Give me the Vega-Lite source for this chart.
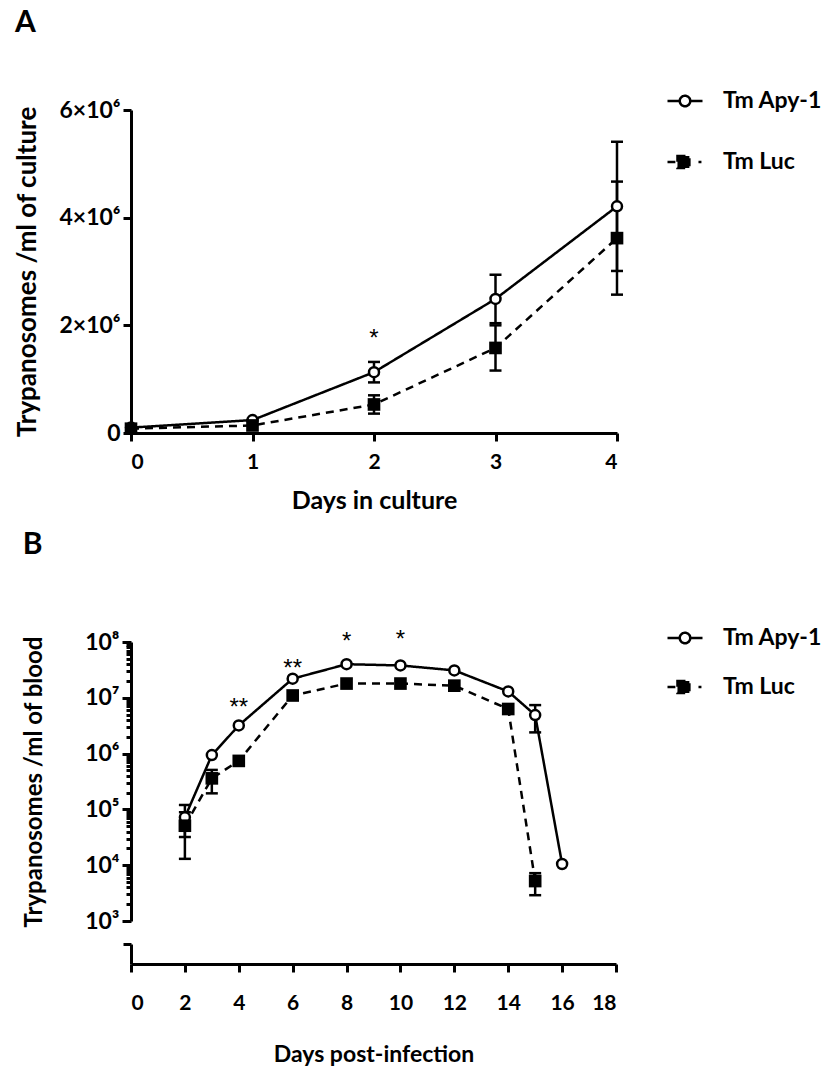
{
  "$schema": "https://vega.github.io/schema/vega-lite/v6.json",
  "padding": {"left": 14, "top": 8, "right": 5, "bottom": 5},
  "spacing": 17,
  "config": {
    "font": "Lato",
    "view": {"stroke": null},
    "axis": {"domainColor": "black", "domainWidth": 3, "tickColor": "black", "tickWidth": 3, "tickSize": 8,
      "labelFont": "Lato", "labelFontWeight": "bold", "labelFontSize": 21, "labelColor": "black",
      "titleFont": "Lato", "titleFontWeight": "bold", "titleFontSize": 24, "titleColor": "black", "grid": false},
    "legend": {"labelFont": "Lato", "labelFontWeight": "bold", "labelFontSize": 23, "labelColor": "black",
      "symbolSize": 1225, "symbolStrokeWidth": 2.5, "symbolStrokeColor": "black", "title": null},
    "title": {"font": "Lato", "fontWeight": "bold", "fontSize": 30, "color": "black", "anchor": "start", "frame": "bounds"}
  },
  "datasets": {
    "a": [
      {"day": 0, "series": "Tm Apy-1", "mean": 100000, "lo": null, "hi": null},
      {"day": 1, "series": "Tm Apy-1", "mean": 240000, "lo": null, "hi": null},
      {"day": 2, "series": "Tm Apy-1", "mean": 1130000, "lo": 940000, "hi": 1320000},
      {"day": 3, "series": "Tm Apy-1", "mean": 2490000, "lo": 2040000, "hi": 2940000},
      {"day": 4, "series": "Tm Apy-1", "mean": 4210000, "lo": 3010000, "hi": 5410000},
      {"day": 0, "series": "Tm Luc", "mean": 80000, "lo": null, "hi": null},
      {"day": 1, "series": "Tm Luc", "mean": 140000, "lo": null, "hi": null},
      {"day": 2, "series": "Tm Luc", "mean": 530000, "lo": 360000, "hi": 700000},
      {"day": 3, "series": "Tm Luc", "mean": 1580000, "lo": 1160000, "hi": 2000000},
      {"day": 4, "series": "Tm Luc", "mean": 3620000, "lo": 2570000, "hi": 4670000}
    ],
    "b": [
      {"day": 2, "series": "Tm Apy-1", "mean": 72000, "lo": 32000, "hi": 120000},
      {"day": 3, "series": "Tm Apy-1", "mean": 940000, "lo": null, "hi": null},
      {"day": 4, "series": "Tm Apy-1", "mean": 3200000, "lo": null, "hi": null},
      {"day": 6, "series": "Tm Apy-1", "mean": 22000000, "lo": null, "hi": null},
      {"day": 8, "series": "Tm Apy-1", "mean": 40000000, "lo": null, "hi": null},
      {"day": 10, "series": "Tm Apy-1", "mean": 38000000, "lo": null, "hi": null},
      {"day": 12, "series": "Tm Apy-1", "mean": 31000000, "lo": null, "hi": null},
      {"day": 14, "series": "Tm Apy-1", "mean": 13000000, "lo": null, "hi": null},
      {"day": 15, "series": "Tm Apy-1", "mean": 4900000, "lo": 2400000, "hi": 7400000},
      {"day": 16, "series": "Tm Apy-1", "mean": 10500, "lo": null, "hi": null},
      {"day": 2, "series": "Tm Luc", "mean": 51000, "lo": 13000, "hi": 89000},
      {"day": 3, "series": "Tm Luc", "mean": 360000, "lo": 194000, "hi": 510000},
      {"day": 4, "series": "Tm Luc", "mean": 740000, "lo": null, "hi": null},
      {"day": 6, "series": "Tm Luc", "mean": 11000000, "lo": null, "hi": null},
      {"day": 8, "series": "Tm Luc", "mean": 18000000, "lo": null, "hi": null},
      {"day": 10, "series": "Tm Luc", "mean": 18000000, "lo": null, "hi": null},
      {"day": 12, "series": "Tm Luc", "mean": 16500000, "lo": null, "hi": null},
      {"day": 14, "series": "Tm Luc", "mean": 6300000, "lo": null, "hi": null},
      {"day": 15, "series": "Tm Luc", "mean": 5200, "lo": 2900, "hi": 7200}
    ],
    "astA": [{"day": 2, "value": 1750000, "label": "*"}],
    "astB": [
      {"day": 4, "value": 6500000, "label": "**"},
      {"day": 6, "value": 33000000, "label": "**"},
      {"day": 8, "value": 100000000, "label": "*"},
      {"day": 10, "value": 108000000, "label": "*"}
    ]
  },
  "vconcat": [
    {
      "title": {"text": "A", "offset": 44},
      "width": 486,
      "height": 323,
      "encoding": {
        "x": {"field": "day", "type": "quantitative", "scale": {"domain": [0, 4]},
          "axis": {"values": [0, 1, 2, 3, 4], "title": "Days in culture", "labelPadding": 10, "titlePadding": 16, "titleFontSize": 25}}
      },
      "layer": [
        {
          "data": {"name": "a"},
          "transform": [{"filter": "datum.lo != null"}],
          "mark": {"type": "rule", "strokeWidth": 2.5, "color": "black"},
          "encoding": {
            "y": {"field": "lo", "type": "quantitative", "scale": {"domain": [0, 6000000]},
              "axis": {"values": [0, 2000000, 4000000, 6000000], "labelExpr": "datum.value == 0 ? '0' : (datum.value / 1000000) + '×10⁶'", "labelFontSize": 23, "title": "Trypanosomes /ml of culture", "titleFontSize": 26, "labelPadding": 3, "titlePadding": 18}},
            "y2": {"field": "hi"}
          }
        },
        {
          "data": {"name": "a"},
          "transform": [{"filter": "datum.lo != null"}],
          "mark": {"type": "tick", "orient": "horizontal", "size": 12, "thickness": 2.5, "color": "black", "opacity": 1},
          "encoding": {"y": {"field": "lo", "type": "quantitative"}}
        },
        {
          "data": {"name": "a"},
          "transform": [{"filter": "datum.lo != null"}],
          "mark": {"type": "tick", "orient": "horizontal", "size": 12, "thickness": 2.5, "color": "black", "opacity": 1},
          "encoding": {"y": {"field": "hi", "type": "quantitative"}}
        },
        {
          "data": {"name": "a"},
          "mark": {"type": "line", "strokeWidth": 2.5, "color": "black"},
          "encoding": {
            "y": {"field": "mean", "type": "quantitative"},
            "strokeDash": {"field": "series", "type": "nominal",
              "scale": {"domain": ["Tm Apy-1", "Tm Luc"], "range": [[1, 0], [8, 6]]},
              "legend": {"orient": "none", "legendX": 535, "legendY": -28, "rowPadding": 30, "labelOffset": 19, "symbolType": "circle",
                "encode": {"symbols": {"update": {
                  "shape": {"signal": "datum.value == 'Tm Apy-1' ? 'M-1,0H-0.3M0.3,0H1M-0.3,0A0.3,0.3,0,1,1,0.3,0A0.3,0.3,0,1,1,-0.3,0Z' : 'M-1,0H-0.55M-0.43,-0.34H0.25V0.34H-0.43ZM0.77,0H0.94'"},
                  "fill": {"signal": "datum.value == 'Tm Apy-1' ? 'white' : 'black'"},
                  "strokeDash": {"value": [1, 0]},
                  "stroke": {"value": "black"},
                  "strokeWidth": {"value": 2.5},
                  "size": {"value": 1225}
                }}}}
            }
          }
        },
        {
          "data": {"name": "a"},
          "transform": [{"filter": "datum.series == 'Tm Apy-1'"}],
          "mark": {"type": "point", "shape": "circle", "size": 100, "strokeWidth": 2.5, "stroke": "black", "fill": "white", "opacity": 1},
          "encoding": {"y": {"field": "mean", "type": "quantitative"}}
        },
        {
          "data": {"name": "a"},
          "transform": [{"filter": "datum.series == 'Tm Luc'"}],
          "mark": {"type": "point", "shape": "square", "size": 160, "strokeWidth": 0, "fill": "black", "filled": true, "opacity": 1},
          "encoding": {"y": {"field": "mean", "type": "quantitative"}}
        },
        {
          "data": {"name": "astA"},
          "mark": {"type": "text", "font": "Liberation Sans", "fontSize": 24, "color": "black", "baseline": "middle"},
          "encoding": {
            "y": {"field": "value", "type": "quantitative"},
            "text": {"field": "label"}
          }
        }
      ]
    },
    {
      "title": {"text": "B", "offset": 59},
      "width": 485,
      "height": 279,
      "encoding": {
        "x": {"field": "day", "type": "quantitative", "scale": {"domain": [0, 18]},
          "axis": {"values": [0, 2, 4, 6, 8, 10, 12, 14, 16, 18], "title": "Days post-infection", "offset": 43, "labelPadding": 20, "titlePadding": 30, "titleFontSize": 23}}
      },
      "layer": [
        {
          "layer": [
            {
              "data": {"name": "b"},
              "transform": [{"filter": "datum.lo != null"}],
              "mark": {"type": "rule", "strokeWidth": 2.5, "color": "black"},
              "encoding": {
                "y": {"field": "lo", "type": "quantitative", "scale": {"type": "log", "domain": [1000, 100000000]},
                  "axis": {"values": [1000,2000,3000,4000,5000,6000,7000,8000,9000,10000,20000,30000,40000,50000,60000,70000,80000,90000,100000,200000,300000,400000,500000,600000,700000,800000,900000,1000000,2000000,3000000,4000000,5000000,6000000,7000000,8000000,9000000,10000000,20000000,30000000,40000000,50000000,60000000,70000000,80000000,90000000,100000000],
                    "labelExpr": "abs(log(datum.value)/LN10 - round(log(datum.value)/LN10)) < 0.001 ? '10' + ['⁰','¹','²','³','⁴','⁵','⁶','⁷','⁸'][round(log(datum.value)/LN10)] : ''",
                    "tickSize": {"condition": {"test": "abs(log(datum.value)/LN10 - round(log(datum.value)/LN10)) < 0.001", "value": 9}, "value": 5},
                    "labelPadding": 3, "labelBound": false, "labelOverlap": false, "labelFontSize": 23,
                    "title": "Trypanosomes /ml of blood", "titleFontSize": 24, "titlePadding": 38}},
                "y2": {"field": "hi"}
              }
            },
            {
              "data": {"name": "b"},
              "transform": [{"filter": "datum.lo != null"}],
              "mark": {"type": "tick", "orient": "horizontal", "size": 12, "thickness": 2.5, "color": "black", "opacity": 1},
              "encoding": {"y": {"field": "lo", "type": "quantitative"}}
            },
            {
              "data": {"name": "b"},
              "transform": [{"filter": "datum.lo != null"}],
              "mark": {"type": "tick", "orient": "horizontal", "size": 12, "thickness": 2.5, "color": "black", "opacity": 1},
              "encoding": {"y": {"field": "hi", "type": "quantitative"}}
            },
            {
              "data": {"name": "b"},
              "mark": {"type": "line", "strokeWidth": 2.5, "color": "black"},
              "encoding": {
                "y": {"field": "mean", "type": "quantitative"},
                "strokeDash": {"field": "series", "type": "nominal",
                  "scale": {"domain": ["Tm Apy-1", "Tm Luc"], "range": [[1, 0], [8, 6]]},
                  "legend": {"orient": "none", "legendX": 535, "legendY": -23, "rowPadding": 18, "labelOffset": 19, "symbolType": "circle",
                    "encode": {"symbols": {"update": {
                      "shape": {"signal": "datum.value == 'Tm Apy-1' ? 'M-1,0H-0.3M0.3,0H1M-0.3,0A0.3,0.3,0,1,1,0.3,0A0.3,0.3,0,1,1,-0.3,0Z' : 'M-1,0H-0.55M-0.43,-0.34H0.25V0.34H-0.43ZM0.77,0H0.94'"},
                      "fill": {"signal": "datum.value == 'Tm Apy-1' ? 'white' : 'black'"},
                      "strokeDash": {"value": [1, 0]},
                      "stroke": {"value": "black"},
                      "strokeWidth": {"value": 2.5},
                      "size": {"value": 1225}
                    }}}}
                }
              }
            },
            {
              "data": {"name": "b"},
              "transform": [{"filter": "datum.series == 'Tm Apy-1'"}],
              "mark": {"type": "point", "shape": "circle", "size": 100, "strokeWidth": 2.5, "stroke": "black", "fill": "white", "opacity": 1},
              "encoding": {"y": {"field": "mean", "type": "quantitative"}}
            },
            {
              "data": {"name": "b"},
              "transform": [{"filter": "datum.series == 'Tm Luc'"}],
              "mark": {"type": "point", "shape": "square", "size": 160, "strokeWidth": 0, "fill": "black", "filled": true, "opacity": 1},
              "encoding": {"y": {"field": "mean", "type": "quantitative"}}
            },
            {
              "data": {"name": "astB"},
              "mark": {"type": "text", "font": "Liberation Sans", "fontSize": 24, "color": "black", "baseline": "middle", "clip": false},
              "encoding": {
                "y": {"field": "value", "type": "quantitative"},
                "text": {"field": "label"}
              }
            }
          ]
        },
        {
          "data": {"values": [{"day": 0, "stub": 1}]},
          "mark": {"type": "point", "opacity": 0, "size": 1},
          "encoding": {
            "y": {"field": "stub", "type": "quantitative", "scale": {"domain": [0, 1], "range": [322, 302]},
              "axis": {"orient": "left", "values": [1], "labels": false, "title": null, "tickSize": 8, "domainWidth": 3}}
          }
        }
      ],
      "resolve": {"scale": {"y": "independent"}, "axis": {"y": "independent"}}
    }
  ],
  "resolve": {"scale": {"x": "independent", "y": "independent", "strokeDash": "independent"}, "legend": {"strokeDash": "independent"}}
}
